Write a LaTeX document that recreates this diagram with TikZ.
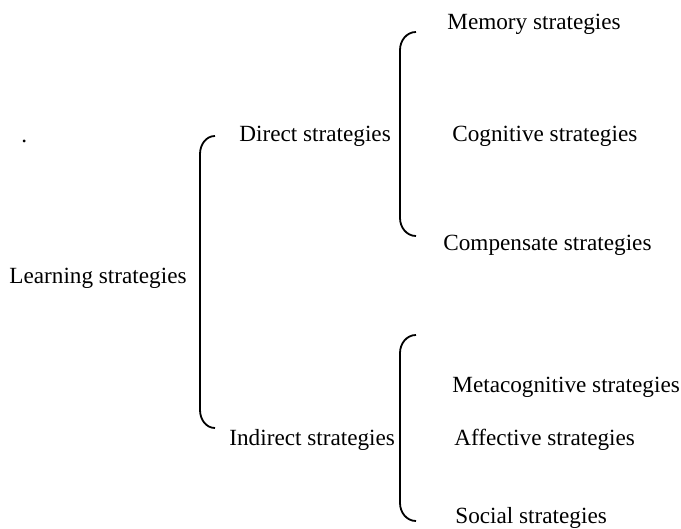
\documentclass[tikz,border=0pt]{standalone}
\usepackage{fontspec}
\setmainfont{Liberation Serif}
\begin{document}
\begin{tikzpicture}[x=0.5pt,y=-0.5pt]
\tikzset{lbl/.style={anchor=west,inner sep=0pt,font=\fontsize{11.6}{14}\selectfont},
  brace/.style={draw,line width=0.9pt}}
\useasboundingbox (0,0) rectangle (681,529);
\node[lbl] (dot) at (21,141) {.};
\node[lbl] (learn) at (9,278) {Learning strategies};
\node[lbl] (direct) at (239,136) {Direct strategies};
\node[lbl] (indirect) at (229,440) {Indirect strategies};
\node[lbl] (memory) at (447,24) {Memory strategies};
\node[lbl] (cognitive) at (452,136) {Cognitive strategies};
\node[lbl] (compensate) at (443,245) {Compensate strategies};
\node[lbl] (meta) at (452,387) {Metacognitive strategies};
\node[lbl] (affective) at (454,440) {Affective strategies};
\node[lbl] (social) at (455,518) {Social strategies};
% braces
\coordinate (ltop) at (215,136);
\coordinate (lbot) at (215,428);
\draw[brace] (ltop) to[out=180,in=90] (200,154) -- (200,410) to[out=-90,in=180] (lbot);
\coordinate (dtop) at (416,32);
\coordinate (dbot) at (416,236);
\draw[brace] (dtop) to[out=180,in=90] (400,50) -- (400,218) to[out=-90,in=180] (dbot);
\coordinate (itop) at (416,335);
\coordinate (ibot) at (416,521);
\draw[brace] (itop) to[out=180,in=90] (400,353) -- (400,503) to[out=-90,in=180] (ibot);
\end{tikzpicture}
\end{document}
